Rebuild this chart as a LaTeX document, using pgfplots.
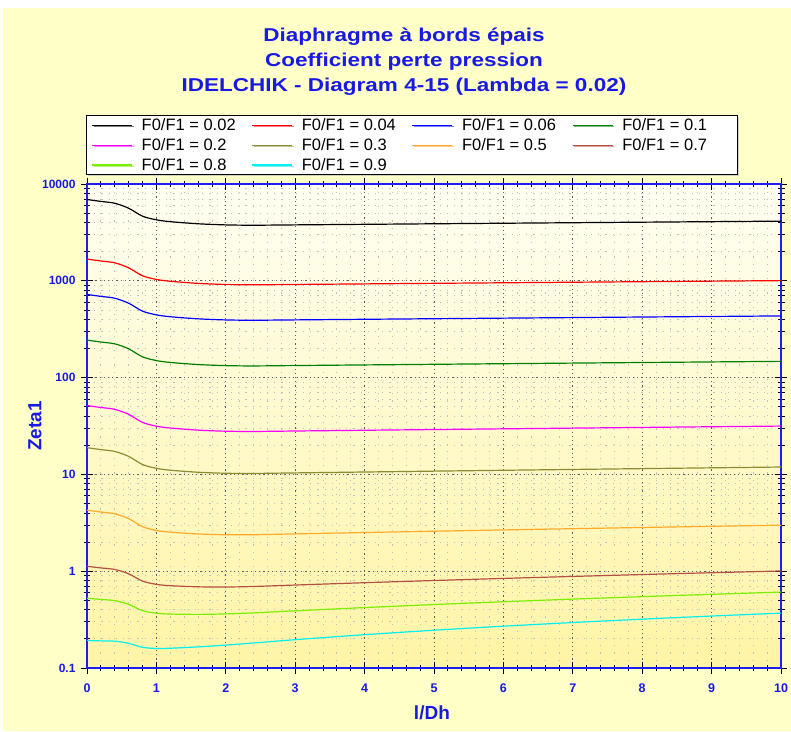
\documentclass[border=0pt]{standalone}
\usepackage{pgfplots}
\pgfplotsset{compat=1.18}
\usepackage{pgfplotstable}
\usepackage{fontspec}
\setmainfont{Liberation Sans}
\usetikzlibrary{shadows}
\definecolor{bgyellow}{RGB}{255,255,200}
\definecolor{plottop}{RGB}{255,255,243}
\definecolor{plotbot}{RGB}{255,244,165}
\definecolor{chartblue}{RGB}{25,25,230}
\definecolor{axisblue}{RGB}{30,30,240}
\definecolor{c1}{RGB}{0,0,0}
\definecolor{c2}{RGB}{255,0,0}
\definecolor{c3}{RGB}{0,0,255}
\definecolor{c4}{RGB}{0,128,0}
\definecolor{c5}{RGB}{255,0,255}
\definecolor{c6}{RGB}{140,140,50}
\definecolor{c7}{RGB}{255,170,40}
\definecolor{c8}{RGB}{180,80,70}
\definecolor{c9}{RGB}{120,240,0}
\definecolor{c10}{RGB}{0,240,240}
\newcommand{\lt}[1]{\makebox[115pt][l]{\hspace{7pt}#1}}

\pgfplotstableread{
x    f002   f004   f006  f01   f02   f03    f05    f07    f08    f09
0    6914.8 1676.8 722.4 244.0 51.41 18.882 4.2712 1.1236 0.5268 0.1924
0.2  6608.7 1602.5 690.4 233.1 49.11 18.042 4.0867 1.0811 0.5109 0.1906
0.4  6326.9 1534.1 660.9 223.2 47.01 17.270 3.9176 1.0425 0.4966 0.1893
0.6  5620.0 1362.0 587.0 198.5 41.80 15.360 3.4950 0.9400 0.4550 0.1800
0.8  4650.0 1127.0 485.5 163.8 34.45 12.650 2.8850 0.7900 0.3915 0.1635
1.0  4265.8 1033.4 444.8 150.0 31.49 11.551 2.6393 0.7317 0.3684 0.1593
1.2  4081.2 988.6  425.5 143.4 30.14 11.051 2.5320 0.7087 0.3610 0.1601
1.6  3882.4 940.4  404.8 136.5 28.66 10.528 2.4252 0.6899 0.3581 0.1653
2.0  3780.8 915.9  394.3 132.9 27.94 10.277 2.3800 0.6867 0.3621 0.1725
2.4  3752.2 909.1  391.4 132.0 27.77 10.229 2.3812 0.6953 0.3711 0.1814
3    3782.2 916.6  394.7 133.2 28.07 10.363 2.4292 0.7197 0.3899 0.1962
4    3832.2 929.1  400.3 135.2 28.57 10.585 2.5092 0.7606 0.4211 0.2209
5    3882.2 941.6  405.8 137.2 29.07 10.807 2.5892 0.8014 0.4524 0.2456
6    3932.2 954.1  411.4 139.2 29.57 11.029 2.6692 0.8422 0.4836 0.2703
7    3982.2 966.6  416.9 141.2 30.07 11.252 2.7492 0.8830 0.5149 0.2950
8    4032.2 979.1  422.5 143.2 30.57 11.474 2.8292 0.9238 0.5461 0.3196
9    4082.2 991.6  428.0 145.2 31.07 11.696 2.9092 0.9646 0.5774 0.3443
10   4132.2 1004.1 433.6 147.2 31.57 11.918 2.9892 1.0055 0.6086 0.3690
}\data

\begin{document}
\begin{tikzpicture}[x=1pt,y=1pt]
\useasboundingbox (0,0) rectangle (791,731);
\fill[white] (0,0) rectangle (791,731);
\fill[bgyellow] (3,0) rectangle (791,723);
\node[font=\fontsize{18.6}{22}\selectfont\bfseries, text=chartblue, xscale=1.21, anchor=base] at (404,689) {Diaphragme à bords épais};
\node[font=\fontsize{18.6}{22}\selectfont\bfseries, text=chartblue, xscale=1.21, anchor=base] at (404,664) {Coefficient perte pression};
\node[font=\fontsize{18.6}{22}\selectfont\bfseries, text=chartblue, xscale=1.21, anchor=base] at (404,639) {IDELCHIK - Diagram 4-15 (Lambda = 0.02)};
\begin{axis}[
  at={(87pt,63pt)}, anchor=south west, scale only axis,
  width=694pt, height=484pt,
  ymode=log, xmin=0, xmax=10, ymin=0.1, ymax=10000,
  xtick={0,1,...,10}, minor x tick num=4,
  ytick={0.1,1,10,100,1000,10000},
  yticklabels={0.1,1,10,100,1000,10000},
  grid=both,
  major grid style={line width=0.8pt, gray!75!black, dash pattern=on 1.2pt off 3pt},
  minor grid style={line width=0.8pt, gray!50, dash pattern=on 1.2pt off 6pt},
  axis line style={axisblue, line width=1.3pt},
  every tick/.style={black, line width=0.8pt},
  tick align=center, major tick length=12pt, minor tick length=7pt,
  /pgf/number format/assume math mode=true,
  yticklabel style={font=\fontsize{12}{14}\selectfont\bfseries, text=chartblue, xshift=-2pt},
  xticklabel style={font=\fontsize{12.5}{14}\selectfont\bfseries, text=chartblue, yshift=-6pt},
  axis background/.style={top color=plottop, bottom color=plotbot},
  xlabel={l/Dh}, ylabel={Zeta1},
  every axis x label/.style={at={(axis description cs:0.497,-0.093)}, anchor=center, font=\fontsize{19}{22}\selectfont\bfseries, text=chartblue},
  every axis y label/.style={at={(axis description cs:-0.075,0.5)}, rotate=90, anchor=center, font=\fontsize{19}{22}\selectfont\bfseries, text=chartblue},
  legend columns=4,
  legend cell align=left,
  legend image code/.code={\draw[#1,line width=1.2pt] (0pt,0pt) -- (40pt,0pt);},
  legend style={at={(-0.0014,1.1426)}, anchor=north west, draw=black, line width=0.9pt, fill=white,
    font=\fontsize{16.5}{19}\selectfont, inner xsep=5pt, inner ysep=1pt, row sep=2.5pt,
    drop shadow={shadow xshift=1.5pt, shadow yshift=-1.5pt, fill=gray!70}},
]
\addplot[c1, line width=1.2pt, smooth] table[x=x,y=f002]{\data}; \addlegendentry{\lt{F0/F1 = 0.02}}
\addplot[c2, line width=1.2pt, smooth] table[x=x,y=f004]{\data}; \addlegendentry{\lt{F0/F1 = 0.04}}
\addplot[c3, line width=1.2pt, smooth] table[x=x,y=f006]{\data}; \addlegendentry{\lt{F0/F1 = 0.06}}
\addplot[c4, line width=1.2pt, smooth] table[x=x,y=f01]{\data}; \addlegendentry{\lt{F0/F1 = 0.1}}
\addplot[c5, line width=1.2pt, smooth] table[x=x,y=f02]{\data}; \addlegendentry{\lt{F0/F1 = 0.2}}
\addplot[c6, line width=1.2pt, smooth] table[x=x,y=f03]{\data}; \addlegendentry{\lt{F0/F1 = 0.3}}
\addplot[c7, line width=1.2pt, smooth] table[x=x,y=f05]{\data}; \addlegendentry{\lt{F0/F1 = 0.5}}
\addplot[c8, line width=1.2pt, smooth] table[x=x,y=f07]{\data}; \addlegendentry{\lt{F0/F1 = 0.7}}
\addplot[c9, line width=1.2pt, smooth] table[x=x,y=f08]{\data}; \addlegendentry{\lt{F0/F1 = 0.8}}
\addplot[c10, line width=1.2pt, smooth] table[x=x,y=f09]{\data}; \addlegendentry{\lt{F0/F1 = 0.9}}
\end{axis}
\end{tikzpicture}
\end{document}
